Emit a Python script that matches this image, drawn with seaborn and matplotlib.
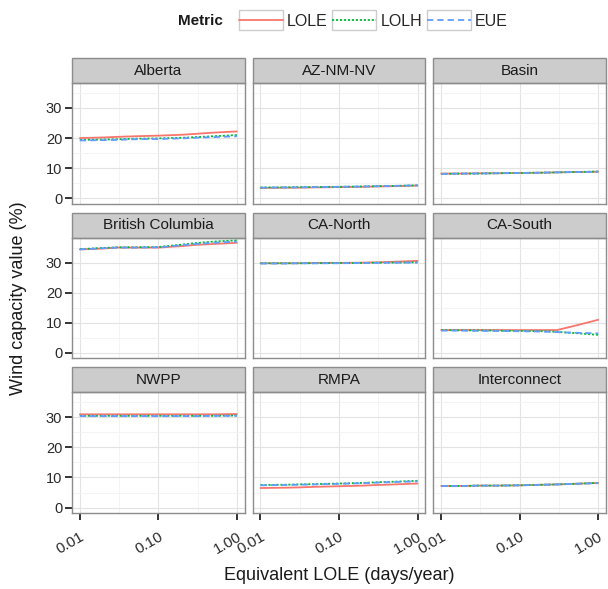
import numpy as np
import pandas as pd
import seaborn as sns
import matplotlib
matplotlib.use('Agg')
import matplotlib.pyplot as plt
from matplotlib.patches import Rectangle
from matplotlib.legend_handler import HandlerLine2D
from matplotlib.lines import Line2D
from matplotlib.ticker import FixedLocator, NullFormatter

# データ
lole_days = [0.01, 0.02, 0.03, 0.05, 0.1, 0.2, 0.3, 0.5, 1.0]
regions = ['Alberta', 'AZ-NM-NV', 'Basin', 'British Columbia', 'CA-North',
           'CA-South', 'NWPP', 'RMPA', 'Interconnect']
metrics = ['LOLE', 'LOLH', 'EUE']

alberta_lole = [20.0, 20.2, 20.4, 20.6, 20.8, 21.1, 21.4, 21.8, 22.2]
alberta_lolh = [19.4, 19.5, 19.6, 19.8, 19.9, 20.1, 20.3, 20.6, 21.0]
alberta_eue = [19.2, 19.3, 19.4, 19.6, 19.7, 19.9, 20.1, 20.3, 20.6]
aznmnv_lole = [3.4, 3.5, 3.5, 3.6, 3.7, 3.8, 3.9, 4.0, 4.2]
aznmnv_lolh = [3.6, 3.6, 3.7, 3.7, 3.8, 3.9, 4.0, 4.1, 4.3]
aznmnv_eue = [3.5, 3.6, 3.6, 3.7, 3.8, 3.9, 4.0, 4.1, 4.3]
basin_lole = [8.2, 8.2, 8.3, 8.3, 8.4, 8.5, 8.6, 8.7, 8.8]
basin_lolh = [8.1, 8.2, 8.2, 8.3, 8.4, 8.5, 8.6, 8.7, 8.9]
basin_eue = [8.1, 8.2, 8.2, 8.3, 8.4, 8.5, 8.6, 8.7, 8.8]
bc_lole = [34.4, 34.7, 35.0, 35.0, 35.0, 35.5, 35.9, 36.2, 36.6]
bc_lolh = [34.5, 34.9, 35.1, 35.1, 35.2, 36.0, 36.5, 37.0, 37.4]
bc_eue = [34.4, 34.8, 35.0, 35.0, 35.1, 35.8, 36.2, 36.6, 37.0]
canorth_lole = [29.8, 29.8, 29.8, 29.9, 29.9, 30.0, 30.1, 30.3, 30.6]
canorth_lolh = [29.8, 29.8, 29.8, 29.8, 29.9, 29.9, 30.0, 30.0, 30.1]
canorth_eue = [29.7, 29.7, 29.8, 29.8, 29.8, 29.9, 29.9, 30.0, 30.0]
casouth_lole = [7.6, 7.6, 7.6, 7.6, 7.6, 7.6, 7.6, 9.0, 11.0]
casouth_lolh = [7.6, 7.5, 7.5, 7.4, 7.3, 7.2, 7.0, 6.6, 6.0]
casouth_eue = [7.4, 7.4, 7.3, 7.3, 7.2, 7.1, 6.9, 6.7, 6.5]
nwpp_lole = [31.0, 31.0, 31.0, 31.0, 31.0, 31.0, 31.0, 31.0, 31.1]
nwpp_lolh = [30.5, 30.5, 30.5, 30.5, 30.5, 30.5, 30.5, 30.5, 30.6]
nwpp_eue = [30.4, 30.4, 30.4, 30.4, 30.4, 30.4, 30.4, 30.5, 30.5]
rmpa_lole = [6.5, 6.6, 6.7, 6.9, 7.1, 7.3, 7.5, 7.7, 8.0]
rmpa_lolh = [7.5, 7.6, 7.7, 7.8, 8.0, 8.2, 8.4, 8.6, 8.9]
rmpa_eue = [7.4, 7.5, 7.6, 7.7, 7.9, 8.1, 8.3, 8.5, 8.7]
inter_lole = [7.2, 7.2, 7.3, 7.3, 7.4, 7.6, 7.7, 7.9, 8.2]
inter_lolh = [7.2, 7.2, 7.3, 7.3, 7.4, 7.6, 7.7, 7.9, 8.2]
inter_eue = [7.2, 7.2, 7.3, 7.3, 7.4, 7.6, 7.7, 7.9, 8.1]

series = {
    'Alberta': [alberta_lole, alberta_lolh, alberta_eue],
    'AZ-NM-NV': [aznmnv_lole, aznmnv_lolh, aznmnv_eue],
    'Basin': [basin_lole, basin_lolh, basin_eue],
    'British Columbia': [bc_lole, bc_lolh, bc_eue],
    'CA-North': [canorth_lole, canorth_lolh, canorth_eue],
    'CA-South': [casouth_lole, casouth_lolh, casouth_eue],
    'NWPP': [nwpp_lole, nwpp_lolh, nwpp_eue],
    'RMPA': [rmpa_lole, rmpa_lolh, rmpa_eue],
    'Interconnect': [inter_lole, inter_lolh, inter_eue],
}

rows = []
for reg in regions:
    for m, vals in zip(metrics, series[reg]):
        for x, v in zip(lole_days, vals):
            rows.append({'Region': reg, 'Metric': m, 'LOLE': x, 'Value': v})
df = pd.DataFrame(rows)

sns.set_style('white')
plt.rcParams['font.family'] = ['Liberation Sans', 'DejaVu Sans']

palette = {'LOLE': '#F8766D', 'LOLH': '#00BA38', 'EUE': '#619CFF'}
dashes = {'LOLE': '', 'LOLH': (1.2, 1.0), 'EUE': (3.5, 2.2)}

g = sns.relplot(data=df, x='LOLE', y='Value', col='Region', col_order=regions,
                col_wrap=3, hue='Metric', hue_order=metrics, style='Metric',
                style_order=metrics, dashes=dashes, palette=palette, kind='line',
                linewidth=1.3, height=2, aspect=1, legend=False,
                facet_kws={'sharex': True, 'sharey': True})

fig = g.figure
fig.set_size_inches(6.08, 5.89)
fig.set_dpi(100)
fig.subplots_adjust(left=72/608, right=606/608, top=1-83/589, bottom=1-513/589,
                    hspace=0.282, wspace=0.046)

for i, (ax, reg) in enumerate(zip(g.axes.flat, regions)):
    ax.set_xscale('log')
    ax.set_xlim(10**-2.1, 10**0.1)
    ax.set_ylim(-1.8, 38.3)
    ax.set_xticks([0.01, 0.1, 1.0])
    ax.set_xticklabels(['0.01', '0.10', '1.00'])
    ax.xaxis.set_minor_locator(FixedLocator([10**-1.5, 10**-0.5]))
    ax.xaxis.set_minor_formatter(NullFormatter())
    ax.set_yticks([0, 10, 20, 30])
    ax.yaxis.set_minor_locator(FixedLocator([5, 15, 25, 35]))
    ax.grid(True, which='major', color='#e3e3e3', lw=0.8)
    ax.grid(True, which='minor', color='#f2f2f2', lw=0.6)
    ax.set_axisbelow(True)
    for s in ax.spines.values():
        s.set_visible(True)
        s.set_color('#8c8c8c')
        s.set_linewidth(1.0)
    ax.tick_params(which='major', length=5, width=1.4, color='#333333',
                   labelsize=10.5, labelcolor='#2a2a2a', pad=2,
                   bottom=(i >= 6), left=(i % 3 == 0))
    ax.tick_params(which='minor', length=0)
    ax.tick_params(axis='x', labelrotation=30, pad=7, labelsize=11)
    for lab in ax.get_xticklabels():
        lab.set_ha('right')
        lab.set_rotation_mode('anchor')
    ax.set_title('')
    ax.set_xlabel('')
    ax.set_ylabel('')
    # ストリップ
    strip = Rectangle((0, 1), 1, 25/120.7, transform=ax.transAxes, clip_on=False,
                      facecolor='#cccccc', edgecolor='#8c8c8c', lw=1.0)
    ax.add_patch(strip)
    ax.text(0.5, 1 + 12.5/120.7, reg, transform=ax.transAxes, ha='center',
            va='center', fontsize=11, color='#1a1a1a')

fig.text(339/608, 1-576/589, 'Equivalent LOLE (days/year)', ha='center',
         va='center', fontsize=13, color='#1a1a1a')
fig.text(19/608, 1-298/589, 'Wind capacity value (%)', ha='center',
         va='center', rotation=90, fontsize=13, color='#1a1a1a')


class BoxedLine(HandlerLine2D):
    def create_artists(self, legend, orig_handle, xdescent, ydescent,
                       width, height, fontsize, trans):
        arts = super().create_artists(legend, orig_handle, xdescent, ydescent,
                                      width, height, fontsize, trans)
        box = Rectangle((-xdescent, -ydescent - 3), width, height + 6,
                        facecolor='white', edgecolor='#cccccc', lw=1.0,
                        transform=trans)
        return [box] + arts


handles = []
for m in metrics:
    h = Line2D([], [], color=palette[m], lw=1.3)
    if dashes[m]:
        h.set_dashes(dashes[m])
    handles.append(h)
fig.text(223/608, 1-21/589, 'Metric', ha='right', va='center',
         fontsize=11, fontweight='bold', color='#1a1a1a')
fig.legend(handles, metrics, loc='center left', bbox_to_anchor=(231/608, 1-21/589),
           ncol=3, frameon=False, fontsize=11.5, handlelength=2.75,
           handletextpad=0.25, columnspacing=0.3, borderpad=0,
           handler_map={Line2D: BoxedLine()})

fig.savefig('out.png', dpi=100)
